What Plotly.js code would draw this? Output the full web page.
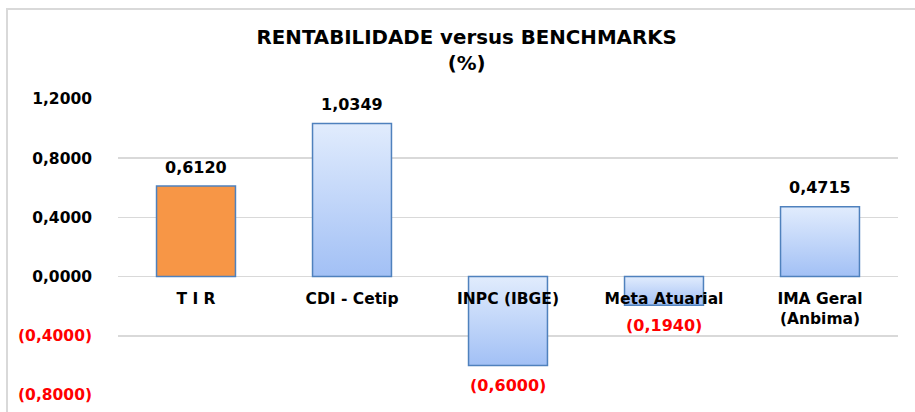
<!DOCTYPE html>
<html>
<head>
<meta charset="utf-8">
<script src="https://cdn.plot.ly/plotly-3.0.1.min.js"></script>
<style>
  html, body { margin: 0; padding: 0; background: #ffffff; overflow: hidden; }
  #frame { position: absolute; left: 6px; top: 8px; width: 2000px; height: 2000px;
           border-left: 2px solid #d9d9d9; border-top: 2px solid #d9d9d9; }
  #chart { position: absolute; left: 0; top: 0; width: 915px; height: 412px; }
</style>
</head>
<body>
<div id="frame"></div>
<div id="chart"></div>
<script>
// ---- data ----
const categories = ["T I R", "CDI - Cetip", "INPC (IBGE)", "Meta Atuarial", "IMA Geral<br>(Anbima)"];
const values = [0.6120, 1.0349, -0.6000, -0.1940, 0.4715];
const barColors = ["#f79646", "blue", "blue", "blue", "blue"];
const yTickVals = [1.2, 0.8, 0.4, 0.0, -0.4, -0.8];
const titleText = "RENTABILIDADE versus BENCHMARKS<br>(%)";

function fmt(v) {
  const s = Math.abs(v).toFixed(4).replace(".", ",");
  return v < 0 ? "(" + s + ")" : s;
}
const yTickText = yTickVals.map(v => v < 0
  ? '<span style="color:#ff0000">' + fmt(v) + '</span>'
  : fmt(v));

const trace = {
  type: "bar",
  x: categories,
  y: values,
  marker: {
    color: barColors.map(c => c === "blue" ? "#c3d7f8" : c),
    line: { color: "#4f81bd", width: 1.5 }
  },
  hoverinfo: "skip"
};

const annotations = values.map((v, i) => ({
  x: categories[i],
  y: v,
  xref: "x", yref: "y",
  text: fmt(v),
  showarrow: false,
  yanchor: "middle",
  yshift: v >= 0 ? 19 : -20,
  font: { family: "DejaVu Sans", size: 16, color: v < 0 ? "#ff0000" : "#000000", weight: "bold" }
}));

const layout = {
  width: 915, height: 412,
  margin: { l: 118, r: 17, t: 99, b: 17, pad: 0 },
  paper_bgcolor: "rgba(0,0,0,0)",
  plot_bgcolor: "rgba(0,0,0,0)",
  showlegend: false,
  bargap: 0.494,
  title: {
    text: titleText,
    font: { family: "DejaVu Sans", size: 19.8, color: "#000000", weight: "bold" },
    x: 0.447, xanchor: "center",
    y: 0.893, yanchor: "middle",
    xref: "paper", yref: "container"
  },
  xaxis: {
    type: "category",
    anchor: "free",
    position: 0.4,
    showline: false,
    showgrid: false,
    ticks: "",
    ticklabelstandoff: 11,
    tickfont: { family: "DejaVu Sans", size: 15.5, color: "#000000", weight: "bold" },
    fixedrange: true
  },
  yaxis: {
    range: [-0.8, 1.2],
    tickvals: yTickVals,
    ticktext: yTickText,
    showgrid: true,
    gridcolor: "#d9d9d9",
    gridwidth: 1.5,
    zeroline: true,
    zerolinecolor: "#d9d9d9",
    zerolinewidth: 1.5,
    showline: false,
    ticks: "",
    ticklabelstandoff: 25,
    tickfont: { family: "DejaVu Sans", size: 15.5, color: "#000000", weight: "bold" },
    fixedrange: true
  },
  annotations: annotations
};

Plotly.newPlot("chart", [trace], layout, { displayModeBar: false, staticPlot: true }).then(gd => {
  const svg = gd.querySelector(".main-svg");
  const ns = "http://www.w3.org/2000/svg";
  let defs = svg.querySelector("defs");
  if (!defs) { defs = document.createElementNS(ns, "defs"); svg.insertBefore(defs, svg.firstChild); }
  const grad = document.createElementNS(ns, "linearGradient");
  grad.setAttribute("id", "barGrad");
  grad.setAttribute("x1", "0"); grad.setAttribute("y1", "0");
  grad.setAttribute("x2", "0"); grad.setAttribute("y2", "1");
  [["0", "#e1ecfd"], ["1", "#a2c0f5"]].forEach(([o, c]) => {
    const s = document.createElementNS(ns, "stop");
    s.setAttribute("offset", o); s.setAttribute("stop-color", c);
    grad.appendChild(s);
  });
  defs.appendChild(grad);
  const paths = gd.querySelectorAll(".barlayer .point path");
  paths.forEach((p, i) => {
    if (barColors[i] === "blue") p.style.fill = "url(#barGrad)";
  });
});
</script>
</body>
</html>
